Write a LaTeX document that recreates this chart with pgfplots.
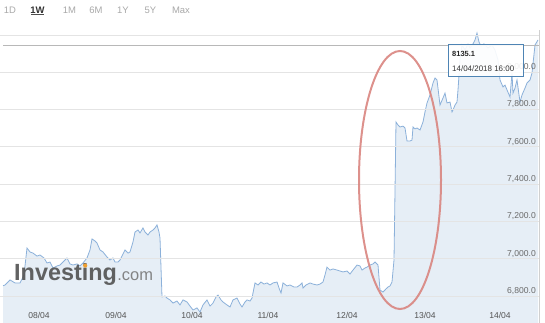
\documentclass[border=0pt]{standalone}
\usepackage{pgfplots}
\usepackage{pgfplotstable}
\pgfplotsset{compat=1.18}
\usepackage{fontspec}
\setmainfont{Liberation Sans}
\definecolor{linec}{HTML}{8CB1DA}
\definecolor{fillc}{HTML}{E6EEF6}
\definecolor{gridc}{HTML}{E4E4E4}
\definecolor{tickc}{HTML}{6A6A6A}
\definecolor{btnc}{HTML}{A8A8A8}
\definecolor{tipc}{HTML}{4E84B4}
\definecolor{ellc}{HTML}{D98580}
\definecolor{logoc}{HTML}{555555}
\definecolor{logoc2}{HTML}{7A7A7A}
\definecolor{dotc}{HTML}{F0A030}

\pgfplotstableread{
px val
3 6855
5 6859
10 6886
15 6870
20 6870
24 6913
27 7057
30 7036
33 7030
37 7014
40 7020
44 7004
47 6977
50 6982
53 6950
57 6961
60 6966
63 6982
67 7004
70 6972
73 6966
77 6972
80 6961
83 6977
87 7004
90 7047
92 7106
95 7095
97 7084
100 7047
103 7036
107 7009
110 6993
113 7004
115 6982
118 6982
120 6993
123 7025
125 7047
128 7030
130 7036
133 7090
135 7143
138 7154
140 7138
143 7165
145 7143
148 7127
150 7143
153 7154
155 7165
157 7181
159 7143
160 7111
162 6795
165 6800
167 6789
170 6779
173 6762
177 6773
180 6752
183 6779
187 6768
190 6746
193 6725
197 6736
200 6714
203 6752
207 6779
210 6746
213 6762
216 6795
218 6805
221 6779
223 6768
227 6752
230 6741
233 6779
237 6789
240 6757
242 6741
245 6768
247 6779
250 6773
252 6789
255 6870
258 6859
261 6875
264 6864
267 6870
270 6859
273 6870
277 6875
279 6843
281 6816
283 6870
287 6854
290 6859
294 6848
297 6848
300 6859
302 6870
303 6843
306 6859
310 6870
313 6864
317 6859
320 6864
323 6875
325 6913
327 6955
330 6939
333 6945
337 6939
340 6934
343 6929
347 6934
350 6918
353 6939
357 6966
360 6961
362 6939
365 6950
367 6955
370 6966
373 6972
375 6982
378 6966
380 6832
383 6821
386 6838
388 6848
390 6854
392 6875
394 6993
396 7733
398 7717
400 7706
403 7711
405 7701
407 7631
410 7631
412 7636
413 7706
415 7696
417 7701
420 7690
423 7733
425 7787
427 7835
430 7878
433 7942
435 7969
437 7958
440 7824
443 7862
445 7888
447 7835
450 7840
452 7787
453 7797
455 7824
457 7840
458 7905
460 8065
462 8146
465 8120
468 8150
470 8130
473 8152
475 8173
477 8210
479 8162
481 8140
484 8152
488 8130
492 8145
495 8119
498 8065
500 7958
503 7921
505 7931
507 7905
510 7867
512 7996
513 7888
515 7915
517 7958
520 7840
522 7878
525 7915
527 7942
530 7958
532 7996
535 8146
538 8173
}\data

\begin{document}
\begin{tikzpicture}
\useasboundingbox (0,0) rectangle (545bp,323bp);
\begin{axis}[
  scale only axis,
  width=539bp, height=323bp,
  xmin=0, xmax=539,
  ymin=6655.2, ymax=8387.2,
  clip mode=individual,
  axis on top,
  axis line style={draw=none},
  major tick length=0pt,
  ymajorgrids,
  grid style={draw=gridc, line width=0.8bp},
  ytick={6800,7000,7200,7400,7600,7800,8000,8200},
  yticklabels={{6,800.0},{7,000.0},{7,200.0},{7,400.0},{7,600.0},{7,800.0},{8,000.0},{}},
  yticklabel pos=right,
  yticklabel style={anchor=east, inner sep=0pt, xshift=-3bp, yshift=5bp, font=\fontsize{8.6}{9}\selectfont, text=tickc},
  xtick={39,116,192,268,347,425,500},
  xticklabels={08/04,09/04,10/04,11/04,12/04,13/04,14/04},
  xticklabel style={anchor=center, inner sep=0pt, yshift=8bp, font=\fontsize{8.6}{9}\selectfont, text=tickc!80!black},
  /pgf/number format/assume math mode=true,
]
\addplot[draw=none, fill=fillc] table[x=px, y=val] {\data} \closedcycle;
\addplot[linec, line width=0.8bp] table[x=px, y=val] {\data};
\end{axis}
% right border and crosshair
\draw[draw=gridc!80!gray, line width=0.8bp] (539bp,0) -- (539bp,293bp);
\draw[draw=black!28, line width=1bp] (3bp,277bp) -- (539bp,277bp);
% watermark logo
\node[anchor=base west, inner sep=0pt, text=logoc, opacity=0.92, font=\fontsize{23.5}{24}\selectfont\bfseries] (logo) at (14bp,42bp) {Investing};
\node[anchor=base west, inner sep=0pt, text=logoc2, opacity=0.92, font=\fontsize{16.5}{17}\selectfont] at (logo.base east) {.com};
\fill[dotc] (85.2bp,57.4bp) circle (2.1bp);
% range buttons
\begin{scope}[font=\fontsize{9.5}{10}\selectfont, text=btnc]
\node at (10bp,312.6bp) {1D};
\node[text=black!80, font=\fontsize{9.5}{10}\selectfont\bfseries] at (37.5bp,312.6bp) {1W};
\draw[black!70, line width=0.8bp] (31bp,308.2bp) -- (44bp,308.2bp);
\node at (69.5bp,312.6bp) {1M};
\node at (96bp,312.6bp) {6M};
\node at (123bp,312.6bp) {1Y};
\node at (150.5bp,312.6bp) {5Y};
\node at (181bp,312.6bp) {Max};
\end{scope}
% red ellipse
\draw[ellc, line width=2bp, opacity=0.9] (400bp,143bp) ellipse [x radius=41bp, y radius=129bp];
% tooltip
\draw[tipc, line width=1bp, fill=white, fill opacity=0.9] (448bp,246bp) rectangle (523bp,278bp);
\node[anchor=west, inner sep=0pt, font=\fontsize{7.5}{8}\selectfont\bfseries, text=black!85] at (452bp,269bp) {8135.1};
\node[anchor=west, inner sep=0pt, font=\fontsize{8}{9}\selectfont, text=black!80] at (452bp,254bp) {14/04/2018 16:00};
\end{tikzpicture}
\end{document}
